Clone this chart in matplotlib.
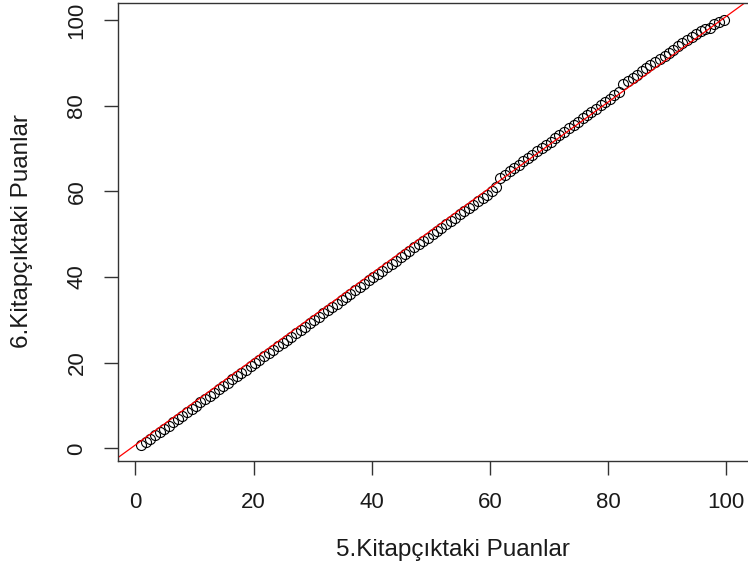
import matplotlib.pyplot as plt

plt.rcParams['font.family'] = ['Liberation Sans', 'DejaVu Sans']

# --- Data: sample quantiles (booklet 5 vs booklet 6) ---
puan_5 = [1.0, 1.8, 2.5, 3.3, 4.1, 4.9, 5.6, 6.4, 7.2, 7.9, 8.7, 9.5, 10.2, 11.0, 11.8, 12.6, 13.3, 14.1, 14.9, 15.6,
          16.4, 17.2, 17.9, 18.7, 19.5, 20.3, 21.0, 21.8, 22.6, 23.3, 24.1, 24.9, 25.6, 26.4, 27.2, 28.0, 28.7, 29.5,
          30.3, 31.0, 31.8, 32.6, 33.3, 34.1, 34.9, 35.7, 36.4, 37.2, 38.0, 38.7, 39.5, 40.3, 41.0, 41.8, 42.6, 43.4,
          44.1, 44.9, 45.7, 46.4, 47.2, 48.0, 48.7, 49.5, 50.3, 51.1, 51.8, 52.6, 53.4, 54.1, 54.9, 55.7, 56.4, 57.2,
          58.0, 58.8, 59.5, 60.3, 61.1, 61.8, 62.6, 63.4, 64.1, 64.9, 65.7, 66.5, 67.2, 68.0, 68.8, 69.5, 70.3, 71.1,
          71.8, 72.6, 73.4, 74.2, 74.9, 75.7, 76.5, 77.2, 78.0, 78.8, 79.5, 80.3, 81.1, 81.9, 82.6, 83.4, 84.2, 84.9,
          85.7, 86.5, 87.2, 88.0, 88.8, 89.6, 90.3, 91.1, 91.9, 92.6, 93.4, 94.2, 94.9, 95.7, 96.5, 97.3, 98.0, 98.8,
          99.6]
puan_6 = [0.7, 1.5, 2.2, 3.0, 3.8, 4.6, 5.3, 6.1, 6.9, 7.6, 8.4, 9.2, 9.9, 10.7, 11.5, 12.3, 13.0, 13.8, 14.6, 15.3,
          16.1, 16.9, 17.6, 18.4, 19.2, 20.0, 20.7, 21.5, 22.3, 23.0, 23.8, 24.6, 25.3, 26.1, 26.9, 27.7, 28.4, 29.2,
          30.0, 30.7, 31.5, 32.3, 33.0, 33.8, 34.6, 35.4, 36.1, 36.9, 37.7, 38.4, 39.2, 40.0, 40.7, 41.5, 42.3, 43.1,
          43.8, 44.6, 45.4, 46.1, 46.9, 47.7, 48.4, 49.2, 50.0, 50.8, 51.5, 52.3, 53.1, 53.8, 54.6, 55.4, 56.1, 56.9,
          57.7, 58.5, 59.2, 60.0, 60.9, 63.1, 63.9, 64.7, 65.4, 66.2, 67.0, 67.8, 68.5, 69.3, 70.1, 70.8, 71.6, 72.4,
          73.1, 73.9, 74.7, 75.5, 76.2, 77.0, 77.8, 78.5, 79.3, 80.1, 80.8, 81.6, 82.4, 83.2, 85.0, 85.8, 86.5, 87.2,
          88.0, 88.7, 89.4, 90.2, 90.9, 91.7, 92.4, 93.1, 93.9, 94.6, 95.3, 96.0, 96.8, 97.5, 98.0, 98.1, 99.0, 99.6,
          100.0]

# reference line
kesisim = 0.8
egim = 1.0

ticks = [0, 20, 40, 60, 80, 100]

W, H = 748, 583
fig = plt.figure(figsize=(W / 100, H / 100), dpi=100)
ax = fig.add_axes([118 / W, 1 - 461 / H, (749.4 - 118) / W, (461 - 3) / H])

ax.plot(puan_5, puan_6, linestyle='none', marker='o', markersize=7.2,
        markerfacecolor='none', markeredgecolor='black', markeredgewidth=0.8)
ax.axline((0, kesisim), slope=egim, color='red', linewidth=0.9)

ax.set_xlim(-2.96, 103.96)
ax.set_ylim(-2.96, 103.96)
ax.set_xticks(ticks)
ax.set_yticks(ticks)
ax.tick_params(length=10, width=1, color='#333333', labelsize=16, pad=12, labelcolor='#1a1a1a')
plt.setp(ax.get_yticklabels(), rotation=90, va='center')
for s in ax.spines.values():
    s.set_color('#333333')
    s.set_linewidth(1)

fig.text(453 / W, 1 - 550 / H, '5.Kitapçıktaki Puanlar', ha='center', va='center',
         fontsize=17.5, color='#1a1a1a')
fig.text(22 / W, 1 - 231 / H, '6.Kitapçıktaki Puanlar', ha='center', va='center',
         rotation=90, fontsize=17.5, color='#1a1a1a')

fig.savefig('out.png', dpi=100)
